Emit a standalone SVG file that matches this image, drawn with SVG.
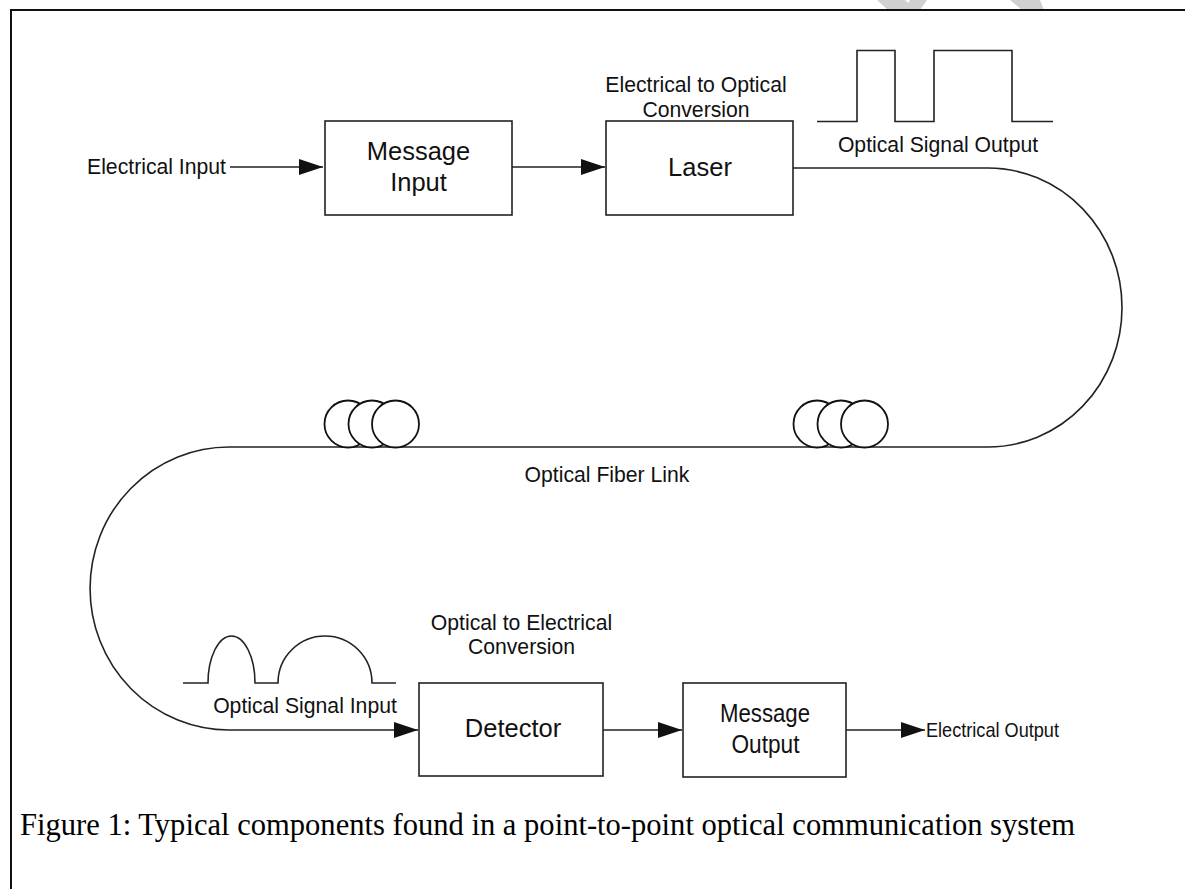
<svg xmlns="http://www.w3.org/2000/svg" width="1185" height="889" viewBox="0 0 1185 889">
<style>
.box{fill:#fff;stroke:#222;stroke-width:1.6}
.ln{fill:none;stroke:#222;stroke-width:1.6}
.t{font-family:"Liberation Sans",Arial,sans-serif;fill:#111}
.s{font-size:21.2px}
.b{font-size:25.5px}
.coil{fill:#fff;stroke:#111;stroke-width:1.8}
.cap{font-family:"Liberation Serif","Times New Roman",serif;font-size:32px;fill:#000}
</style>
<defs>
<marker id="ah" markerUnits="userSpaceOnUse" markerWidth="24" markerHeight="16" refX="24" refY="8" orient="auto">
<path d="M0,0 L24,8 L0,16 z" fill="#111"/>
</marker>
</defs>
<rect width="1185" height="889" fill="#fff"/>
<g id="watermark" fill="#d0d0d0">
<polygon points="877,0 905,0 916,10 888,10"/>
<polygon points="910,0 927,0 920,10 905,10"/>
<polygon points="1010,0 1040,0 1044,10 1022,10"/>
</g>
<g id="frame" stroke="#111" stroke-width="2" fill="none">
<path d="M11,889 V10 H1185"/>
</g>
<g id="connectors">
<path class="ln" d="M230,167 H323" marker-end="url(#ah)"/>
<path class="ln" d="M512,167 H605" marker-end="url(#ah)"/>
<path class="ln" d="M793,168 H988 A134,139.5 0 0 1 988,447 H229 A139,141.5 0 0 0 229,730 H418" marker-end="url(#ah)"/>
<path class="ln" d="M603,730 H682" marker-end="url(#ah)"/>
<path class="ln" d="M846,730 H925" marker-end="url(#ah)"/>
</g>
<g id="electrical-input">
<text class="t s" x="226" y="174" text-anchor="end" font-size="21.5">Electrical Input</text>
</g>
<g id="message-input">
<rect class="box" x="325" y="121" width="187" height="94"/>
<text class="t b" x="418.5" y="160" text-anchor="middle">Message</text>
<text class="t b" x="418.5" y="190.5" text-anchor="middle">Input</text>
</g>
<g id="laser">
<text class="t s" x="696" y="92" text-anchor="middle">Electrical to Optical</text>
<text class="t s" x="696" y="116.5" text-anchor="middle">Conversion</text>
<rect class="box" x="606" y="121" width="187" height="94"/>
<text class="t b" x="700" y="176" text-anchor="middle">Laser</text>
</g>
<g id="optical-signal-output">
<path class="ln" d="M817,121.5 H857 V50.5 H895 V121.5 H934 V50.5 H1012 V121.5 H1053"/>
<text class="t s" x="938" y="152" text-anchor="middle">Optical Signal Output</text>
</g>
<g id="coil-left">
<circle class="coil" cx="348" cy="424" r="23.5"/>
<circle class="coil" cx="372" cy="424" r="23.5"/>
<circle class="coil" cx="395.5" cy="424" r="23.5"/>
</g>
<g id="coil-right">
<circle class="coil" cx="817" cy="424" r="23.5"/>
<circle class="coil" cx="841" cy="424" r="23.5"/>
<circle class="coil" cx="864.5" cy="424" r="23.5"/>
</g>
<g id="fiber-label">
<text class="t s" x="607" y="482" text-anchor="middle">Optical Fiber Link</text>
</g>
<g id="optical-signal-input">
<path class="ln" d="M183,683 H208 A23.5,47 0 0 1 255,683 H278 A47,47 0 0 1 372,683 H396"/>
<text class="t s" x="305" y="712.5" text-anchor="middle">Optical Signal Input</text>
</g>
<g id="detector">
<text class="t s" x="521.5" y="630" text-anchor="middle">Optical to Electrical</text>
<text class="t s" x="521.5" y="654" text-anchor="middle">Conversion</text>
<rect class="box" x="419" y="683" width="184" height="93"/>
<text class="t b" x="513" y="737" text-anchor="middle">Detector</text>
</g>
<g id="message-output">
<rect class="box" x="683" y="683" width="163" height="94"/>
<text class="t b" x="765" y="721.5" text-anchor="middle" textLength="90" lengthAdjust="spacingAndGlyphs">Message</text>
<text class="t b" x="765.5" y="752.5" text-anchor="middle" textLength="68" lengthAdjust="spacingAndGlyphs">Output</text>
</g>
<g id="electrical-output">
<text class="t" x="926" y="737" font-size="21" textLength="133" lengthAdjust="spacingAndGlyphs">Electrical Output</text>
</g>
<g id="caption">
<text class="cap" x="20" y="835" textLength="1055" lengthAdjust="spacingAndGlyphs">Figure 1: Typical components found in a point-to-point optical communication system</text>
</g>
</svg>
